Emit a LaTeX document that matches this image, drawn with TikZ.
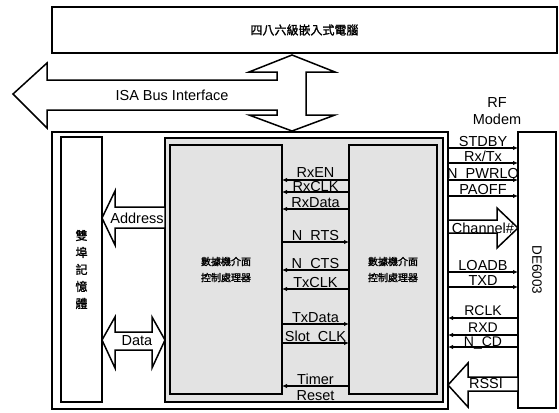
\documentclass[tikz,border=0pt]{standalone}
\usepackage{fontspec}
\setmainfont{Liberation Sans}
\newfontfamily\cjk[FakeBold=1.5]{Noto Sans CJK TC}
\usetikzlibrary{arrows.meta}

\begin{document}
\begin{tikzpicture}[x=1pt,y=-1pt,line width=1.5pt,every node/.style={font=\fontsize{14.5}{17}\selectfont,inner sep=0pt},
  blk/.style={draw,rectangle,outer sep=0pt},
  sig/.style={-{Latex[length=5pt,width=4.5pt]}},
  lbl/.style={anchor=base},
  fat/.style={draw,fill=white}]

\useasboundingbox (0,0) rectangle (559,412);

\node[blk,minimum width=505,minimum height=46,font=\cjk\fontsize{12}{14}\selectfont] (host) at (304.5,30) {四八六級嵌入式電腦};

\node[blk,minimum width=396,minimum height=277] (board) at (250,270.5) {};
\node[blk,fill=gray!22,minimum width=278,minimum height=264] (core) at (304,270) {};
\node[blk,fill=gray!22,minimum width=112,minimum height=249,align=center,font=\cjk\fontsize{10}{16}\selectfont] (mcu) at (226,269.5) {數據機介面\\控制處理器};
\node[blk,fill=gray!22,minimum width=88,minimum height=249,align=center,font=\cjk\fontsize{10}{16}\selectfont] (modif) at (393,269.5) {數據機介面\\控制處理器};
\node[blk,minimum width=41,minimum height=265,align=center,font=\cjk\fontsize{12}{17}\selectfont] (dpram) at (81.5,269.5) {雙\\埠\\記\\憶\\體};
\node[blk,minimum width=38,minimum height=276] (rf) at (537,270) {};
\node[rotate=-90,font=\fontsize{13.5}{15}\selectfont] (rfname) at (rf.center) {DE6003};
\node[align=center] (rfmodem) at (497,111) {RF\\Modem};

\draw[fat] (292,55) -- (335,72) -- (306,72) -- (306,115) -- (335,115) -- (292,131) -- (249,115) -- (277,115) -- (277,110) -- (47,110) -- (47,128) -- (13,94) -- (47,63) -- (47,80) -- (277,80) -- (277,72) -- (249,72) -- cycle;
\node (isa) at (172,95) {ISA Bus Interface};

\draw[fat] (165,207) -- (115,207) -- (115,191) -- (102,218) -- (115,245) -- (115,228) -- (165,228) -- cycle;
\node (addr) at (137,218) {Address};
\draw[fat] (102,340) -- (115,317) -- (115,332) -- (152,332) -- (152,317) -- (165,340) -- (152,368) -- (152,350) -- (115,350) -- (115,368) -- cycle;
\node (data) at (137,341) {Data};

\draw[fat] (448,220) -- (497,220) -- (497,208) -- (518,228) -- (497,248) -- (497,233) -- (448,233) -- cycle;
\node (chan) at (483,228) {Channel\#};
\draw[fat] (518,377) -- (468,377) -- (468,363) -- (448,385) -- (468,407) -- (468,391) -- (518,391) -- cycle;
\node (rssi) at (486,384) {RSSI};

\foreach \y/\t/\d in {180/RxEN/3,192/RxCLK/0.5,209/RxData/2,270/N\_CTS/2,289/TxCLK/2,386/Timer/2}{
  \draw[sig] (modif.west |- 0,\y) -- (mcu.east |- 0,\y);
  \node[lbl] (m\y) at (315.5,\y-\d) {\t};
}
\foreach \y/\t in {242/N\_RTS,324/TxData,343/Slot\_CLK}{
  \draw[sig] (mcu.east |- 0,\y) -- (modif.west |- 0,\y);
  \node[lbl] (m\y) at (315.5,\y-2) {\t};
}
\node[lbl] (reset) at (315.5,400) {Reset};

\foreach \y/\t in {148/STDBY,163/{Rx/Tx},180/N\_PWRLO,196/PAOFF,272/LOADB,287/TXD}{
  \draw[sig] (board.east |- 0,\y) -- (rf.west |- 0,\y);
  \node[lbl] (r\y) at (483,\y-2) {\t};
}
\foreach \y/\t/\d in {318/RCLK/3,335/RXD/2.5,347/N\_CD/0.5}{
  \draw[sig] (rf.west |- 0,\y) -- (board.east |- 0,\y);
  \node[lbl,font=\fontsize{14}{16}\selectfont] (r\y) at (483,\y-\d) {\t};
}

\end{tikzpicture}
\end{document}
